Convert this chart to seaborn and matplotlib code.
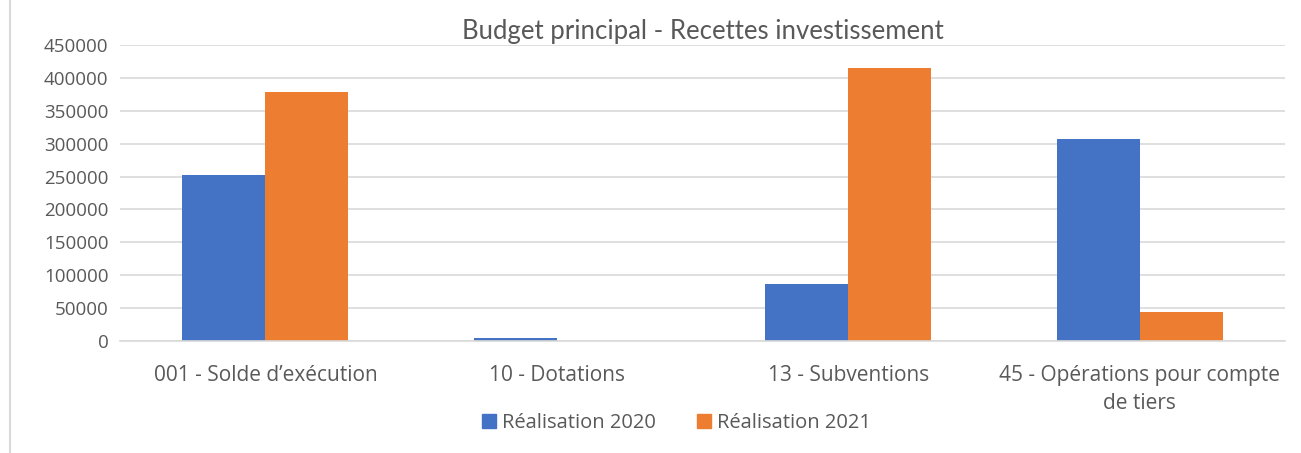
import matplotlib
matplotlib.use("Agg")
import matplotlib.pyplot as plt
import matplotlib.lines as mlines
import seaborn as sb
import pandas as pd

# data
categories = ["001 - Solde d\u2019ex\u00e9cution", "10 - Dotations", "13 - Subventions",
              "45 - Op\u00e9rations pour compte\nde tiers"]
real_2020 = [253000, 4500, 87000, 307000]
real_2021 = [379000, 0, 415000, 44000]
series = ["R\u00e9alisation 2020", "R\u00e9alisation 2021"]
yticks = [0, 50000, 100000, 150000, 200000, 250000, 300000, 350000, 400000, 450000]

colors = ["#4472C4", "#ED7D31"]
text_col = "#595959"

df = pd.DataFrame({
    "cat": categories * 2,
    "val": real_2020 + real_2021,
    "serie": [series[0]] * 4 + [series[1]] * 4,
})

sb.set_style("white")
plt.rcParams["font.family"] = ["Open Sans", "DejaVu Sans"]

fig = plt.figure(figsize=(13.01, 4.53), dpi=100)
ax = fig.add_axes([0.092, 0.247, 0.896, 0.654])

sb.barplot(data=df, x="cat", y="val", hue="serie", palette=colors,
           width=0.57, gap=0, ax=ax, errorbar=None, saturation=1, legend=False,
           linewidth=0)

ax.set_ylim(0, 450000)
ax.set_yticks(yticks)
ax.set_yticklabels([str(t) for t in yticks], fontsize=13.5, color=text_col)
ax.set_xticks(range(len(categories)))
ax.set_xticklabels(categories, fontsize=15, color=text_col, linespacing=1.45)
ax.set_xlabel("")
ax.set_ylabel("")
ax.set_xlim(-0.5, 3.5)
ax.yaxis.grid(True, color="#D9D9D9", linewidth=1.2)
ax.set_axisbelow(True)
for s in ["top", "right", "left"]:
    ax.spines[s].set_visible(False)
ax.spines["bottom"].set_color("#D9D9D9")
ax.spines["bottom"].set_linewidth(1.2)
ax.tick_params(axis="y", length=0, pad=8)
ax.tick_params(axis="x", length=0, pad=17)

ax.set_title("Budget principal - Recettes investissement", fontsize=18.5,
             color=text_col, pad=4, family=["Lato", "DejaVu Sans"])

handles = [plt.Rectangle((0, 0), 1, 1, color=c) for c in colors]
fig.legend(handles, series, loc="center", bbox_to_anchor=(0.52, 0.066), ncol=2,
           frameon=False, fontsize=14.5, handlelength=0.7, handleheight=0.7,
           handletextpad=0.3, columnspacing=2.0, labelcolor=text_col)

# chart frame line on the left
fig.add_artist(mlines.Line2D([0.008, 0.008], [0, 1], color="#D9D9D9", linewidth=1.5))

fig.savefig("out.png", dpi=100)
